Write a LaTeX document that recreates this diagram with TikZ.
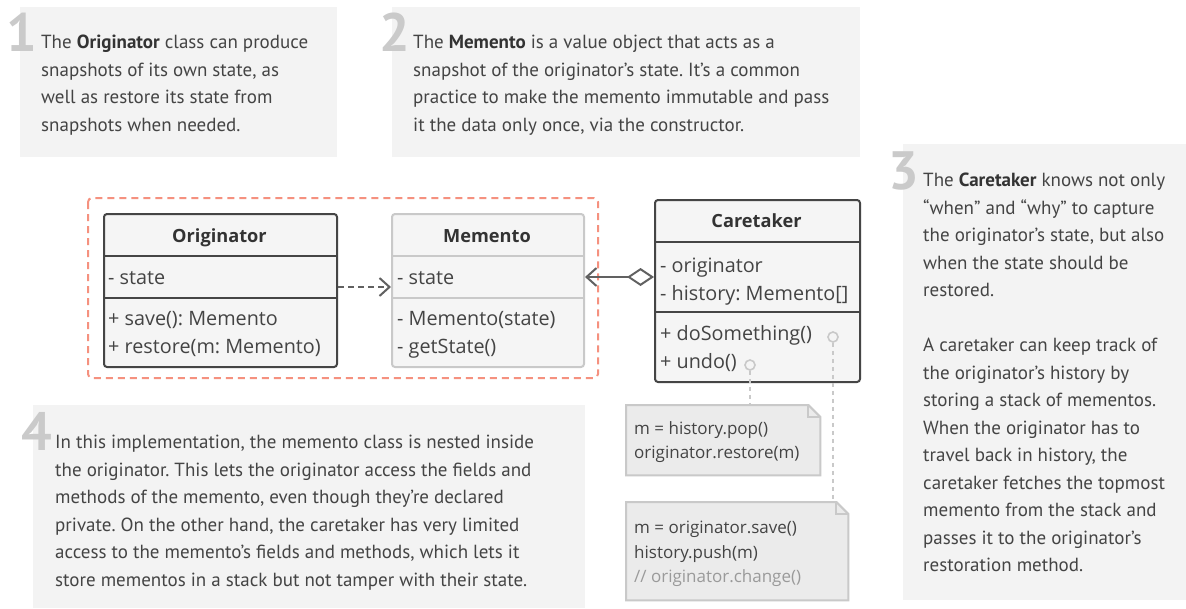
\documentclass[tikz,border=0pt]{standalone}
\usepackage{fontspec}
\setmainfont{PT Sans}
\newfontfamily\umlfont{Open Sans}
\usetikzlibrary{arrows.meta}
\frenchspacing

\definecolor{ink}{HTML}{444444}
\definecolor{inkdark}{HTML}{333333}
\definecolor{panel}{HTML}{F3F3F3}
\definecolor{digit}{HTML}{CACACA}
\definecolor{boxfill}{HTML}{F5F5F5}
\definecolor{boxline}{HTML}{454545}
\definecolor{paleline}{HTML}{C9C9C9}
\definecolor{notefill}{HTML}{EBEBEB}
\definecolor{grouped}{HTML}{F5917F}
\definecolor{hintgray}{HTML}{9A9A9A}

\tikzset{
  callouttext/.style={anchor=north west, inner sep=0pt, align=left, text=ink,
    font=\fontsize{19}{27.5}\selectfont},
  bignum/.style={anchor=base east, inner sep=0pt, text=digit,
    font=\fontsize{54}{54}\selectfont\bfseries},
  classbox/.style={draw=boxline, fill=boxfill, line width=2pt, rounded corners=3pt,
    anchor=north west, inner sep=0pt},
  paleclass/.style={classbox, draw=paleline},
  umltitle/.style={inner sep=0pt, text=inkdark, text height=13pt, text depth=4pt, yshift=-3pt,
    font=\umlfont\fontsize{18.2}{22}\selectfont\bfseries},
  umltext/.style={anchor=west, inner sep=0pt, text=ink, text height=14pt, text depth=5pt, yshift=-3pt,
    font=\umlfont\fontsize{19.8}{22}\selectfont},
  notearea/.style={anchor=north west, inner sep=0pt},
  noteline/.style={draw=paleline, fill=notefill, line width=2pt, line join=miter},
  notetext/.style={anchor=north west, inner sep=0pt, align=left, text=ink,
    font=\umlfont\fontsize{17}{24.5}\selectfont},
  port/.style={circle, draw=paleline, line width=1.6pt, minimum size=10pt, inner sep=0pt},
  link/.style={draw=paleline, line width=2pt, dash pattern=on 4pt off 4pt},
  dependency/.style={draw=boxline!85, line width=2pt, dash pattern=on 6pt off 4pt,
    -{Straight Barb[length=10pt,width=18pt,line width=2pt]}},
  aggregation/.style={draw=boxline!85, line width=2pt,
    {Diamond[open,length=27pt,width=18pt,line width=2pt]}-{Straight Barb[length=10pt,width=18pt,line width=2pt]}},
  groupframe/.style={draw=grouped, line width=2pt, dash pattern=on 7pt off 5pt, rounded corners=4pt}
}

\begin{document}
\begin{tikzpicture}[x=1pt,y=-1pt]
\useasboundingbox (0,0) rectangle (1186,608);
\fill[white] (0,0) rectangle (1186,608);

% ---- explanatory panels ----
\fill[panel] (20,7) rectangle (337,157);
\fill[panel] (392,7) rectangle (860,157);
\fill[panel] (903,144) rectangle (1186,600);
\fill[panel] (33,405) rectangle (585,608);

\node[callouttext] (t1) at (41,35) {The \textbf{\color{inkdark}Originator} class can produce\\snapshots of its own state, as\\well as restore its state from\\snapshots when needed.};
\node[bignum] (n1) at (37,51) {1};

\node[callouttext] (t2) at (413,35) {The \textbf{\color{inkdark}Memento} is a value object that acts as a\\snapshot of the originator’s state. It’s a common\\practice to make the memento immutable and pass\\it the data only once, via the constructor.};
\node[bignum] (n2) at (410,51) {2};

\node[callouttext] (t3) at (923,173) {The \textbf{\color{inkdark}Caretaker} knows not only\\“when” and “why” to capture\\the originator’s state, but also\\when the state should be\\restored.\\[27.5pt]A caretaker can keep track of\\the originator’s history by\\storing a stack of mementos.\\When the originator has to\\travel back in history, the\\caretaker fetches the topmost\\memento from the stack and\\passes it to the originator’s\\restoration method.};
\node[bignum] (n3) at (919,189) {3};

\node[callouttext] (t4) at (55,435) {In this implementation, the memento class is nested inside\\the originator. This lets the originator access the fields and\\methods of the memento, even though they’re declared\\private. On the other hand, the caretaker has very limited\\access to the memento’s fields and methods, which lets it\\store mementos in a stack but not tamper with their state.};
\node[bignum] (n4) at (52,450) {4};

% ---- nested-class grouping ----
\draw[groupframe] (88,198) rectangle (598,378);

% ---- Originator ----
\node[classbox, minimum width=233pt, minimum height=153pt] (orig) at (103,213) {};
\draw[boxline, line width=2pt] (orig.west |- 0,256) -- (orig.east |- 0,256);
\draw[boxline, line width=2pt] (orig.west |- 0,298) -- (orig.east |- 0,298);
\node[umltitle] (origname) at (219.5,235) {Originator};
\node[umltext] (origa1) at (108,277) {- state};
\node[umltext] (origm1) at (108,318) {+ save(): Memento};
\node[umltext] (origm2) at (108,346) {+ restore(m: Memento)};

% ---- Memento ----
\node[paleclass, minimum width=192pt, minimum height=153pt] (mem) at (391,213) {};
\draw[paleline, line width=2pt] (mem.west |- 0,256) -- (mem.east |- 0,256);
\draw[paleline, line width=2pt] (mem.west |- 0,298) -- (mem.east |- 0,298);
\node[umltitle] (memname) at (487,235) {Memento};
\node[umltext] (mema1) at (397,277) {- state};
\node[umltext] (memm1) at (397,318) {- Memento(state)};
\node[umltext] (memm2) at (397,346) {- getState()};

% ---- Caretaker ----
\node[classbox, minimum width=205pt, minimum height=182pt] (care) at (654,199) {};
\draw[boxline, line width=2pt] (care.west |- 0,242) -- (care.east |- 0,242);
\draw[boxline, line width=2pt] (care.west |- 0,312) -- (care.east |- 0,312);
\node[umltitle] (carename) at (756.5,220) {Caretaker};
\node[umltext] (carea1) at (660,265) {- originator};
\node[umltext] (carea2) at (660,293) {- history: Memento[]};
\node[umltext] (carem1) at (660,333) {+ doSomething()};
\node[umltext] (carem2) at (660,361) {+ undo()};

% ---- relations ----
\draw[dependency] (orig.east |- 0,287) -- (mem.west |- 0,287);
\draw[aggregation] (care.west |- 0,277) -- (mem.east |- 0,277);

% ---- code notes ----
\node[notearea, minimum width=194pt, minimum height=70pt] (note1) at (626,405) {};
\draw[noteline] (note1.north west) -- ([xshift=-12pt]note1.north east) -- ([yshift=-12pt]note1.north east) -- (note1.south east) -- (note1.south west) -- cycle;
\draw[paleline, line width=2pt] ([xshift=-12pt]note1.north east) |- ([yshift=-12pt]note1.north east);
\node[notetext] (code1) at (634,421) {m = history.pop()\\originator.restore(m)};

\node[notearea, minimum width=222pt, minimum height=98pt] (note2) at (626,502) {};
\draw[noteline] (note2.north west) -- ([xshift=-12pt]note2.north east) -- ([yshift=-12pt]note2.north east) -- (note2.south east) -- (note2.south west) -- cycle;
\draw[paleline, line width=2pt] ([xshift=-12pt]note2.north east) |- ([yshift=-12pt]note2.north east);
\node[notetext] (code2) at (634,521) {m = originator.save()\\history.push(m)\\{\color{hintgray}// originator.change()}};

% ---- method-to-note links ----
\node[port] (p1) at (833,337) {};
\node[port] (p2) at (750,365) {};
\draw[link] (p2.south) -- (p2.south |- note1.north);
\draw[link] (p1.south) -- (p1.south |- note2.north);
\end{tikzpicture}
\end{document}
